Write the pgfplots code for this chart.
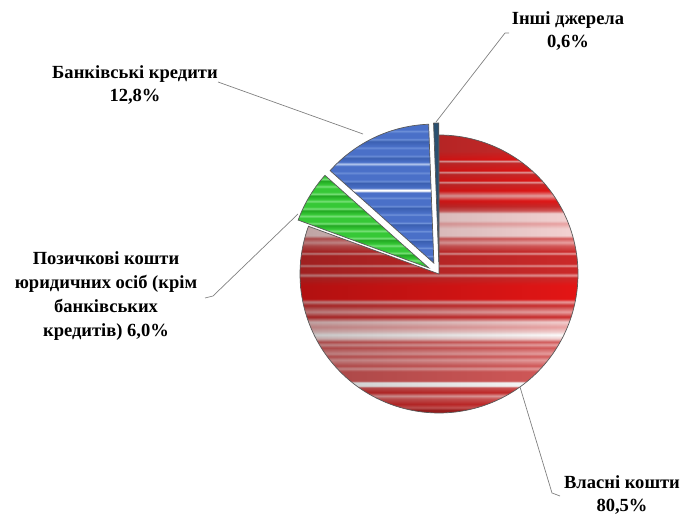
\documentclass[border=0pt]{standalone}
\usepackage{pgfplots}
\usepackage{pgfplotstable}
\pgfplotsset{compat=1.18}
\usetikzlibrary{fadings}
\usepackage{fontspec}
\setmainfont{Liberation Serif}

\definecolor{R1}{HTML}{CC2A2A}
\definecolor{R2}{HTML}{E41616}
\definecolor{RD}{HTML}{A41E1E}
\definecolor{RS}{HTML}{D65A5A}
\definecolor{P1}{HTML}{EBA2A2}
\definecolor{P2}{HTML}{F4D2D2}
\definecolor{B1}{HTML}{4A70C8}
\definecolor{B2}{HTML}{7496DC}
\definecolor{BD}{HTML}{3A5FB0}
\definecolor{G1}{HTML}{36C836}
\definecolor{G2}{HTML}{78E078}
\definecolor{GD}{HTML}{22A822}
\definecolor{OT}{HTML}{2A5070}
\definecolor{leader}{HTML}{808080}

\pgfdeclareverticalshading{redstr}{100bp}{%
color(0bp)=(RD); color(22bp)=(RD); color(23.4bp)=(R1); color(23.9bp)=(RS); color(24.4bp)=(R1);
color(25.5bp)=(RD); color(26bp)=(RS); color(26.6bp)=(R1); color(27.6bp)=(RS); color(28.1bp)=(P1);
color(28.7bp)=(R1); color(29.6bp)=(RS); color(29.9bp)=(white); color(30.5bp)=(white); color(30.8bp)=(RS);
color(32.5bp)=(RS); color(33bp)=(P1); color(33.5bp)=(RS); color(34.6bp)=(P1); color(35.2bp)=(RS);
color(35.7bp)=(P1); color(36.75bp)=(RS); color(37.3bp)=(P1); color(37.8bp)=(RS); color(38.4bp)=(P2);
color(39.1bp)=(white); color(39.6bp)=(P2); color(40.5bp)=(P1); color(41.4bp)=(P2); color(42.3bp)=(R1);
color(43.2bp)=(P1); color(43.9bp)=(RS); color(44.4bp)=(R1); color(45bp)=(P1); color(45.5bp)=(R2);
color(48bp)=(R2); color(49.4bp)=(R1); color(49.8bp)=(P1); color(50.2bp)=(R1); color(51.2bp)=(R1);
color(51.5bp)=(P1); color(51.8bp)=(R1); color(53.4bp)=(R1); color(53.7bp)=(P1); color(54bp)=(R1);
color(55.1bp)=(RS); color(55.7bp)=(P1); color(56.4bp)=(RS); color(56.9bp)=(P2); color(58.2bp)=(P2);
color(59.1bp)=(P1); color(59.6bp)=(P2); color(60.9bp)=(P2); color(61.4bp)=(RS); color(62.2bp)=(R1);
color(63.2bp)=(R2); color(64.1bp)=(P1); color(65bp)=(R2); color(66.2bp)=(R1); color(66.5bp)=(P1);
color(66.8bp)=(R2); color(68bp)=(R1); color(68.3bp)=(P1); color(68.6bp)=(R2); color(70bp)=(R1);
color(70.3bp)=(P1); color(70.6bp)=(R2); color(72.1bp)=(R1); color(100bp)=(R1)}

\pgfdeclareverticalshading{bluestr}{100bp}{%
color(0bp)=(BD); color(10bp)=(BD); color(12bp)=(B1); color(12.5bp)=(B2); color(13bp)=(B1);
color(15bp)=(BD); color(15.5bp)=(B2); color(16bp)=(B1); color(18bp)=(B1); color(18.5bp)=(B2);
color(19bp)=(B1); color(21bp)=(BD); color(21.5bp)=(B2); color(22bp)=(B1); color(24bp)=(B1);
color(24.5bp)=(B2); color(25bp)=(B1); color(27bp)=(BD); color(27.5bp)=(B2); color(28bp)=(B1);
color(30bp)=(B1); color(30.5bp)=(B2); color(31bp)=(B1); color(33bp)=(BD); color(33.5bp)=(B2);
color(34bp)=(B1); color(36bp)=(B1); color(36.5bp)=(B2); color(37bp)=(B1); color(39bp)=(BD);
color(39.5bp)=(B2); color(40bp)=(B1); color(42bp)=(B1); color(42.5bp)=(B2); color(43bp)=(B1);
color(45bp)=(BD); color(45.5bp)=(B2); color(46bp)=(B1); color(48bp)=(B1); color(48.5bp)=(B2);
color(49bp)=(B1); color(50.6bp)=(B1); color(50.9bp)=(white); color(51.6bp)=(white); color(51.9bp)=(B1);
color(54bp)=(BD); color(54.5bp)=(B2); color(55bp)=(B1); color(57bp)=(B1); color(57.5bp)=(B2);
color(58bp)=(B1); color(60bp)=(B1); color(60.4bp)=(B2); color(60.7bp)=(white); color(61bp)=(B2);
color(61.4bp)=(B1); color(63bp)=(BD); color(63.5bp)=(B2); color(64bp)=(B1); color(66bp)=(B1);
color(66.5bp)=(B2); color(67bp)=(B1); color(69bp)=(BD); color(69.5bp)=(B2); color(70bp)=(B1);
color(72bp)=(B1); color(72.5bp)=(B2); color(73bp)=(B1); color(100bp)=(B1)}

\pgfdeclareverticalshading{greenstr}{100bp}{%
color(0bp)=(GD); color(10bp)=(GD); color(12bp)=(G1); color(13bp)=(G2); color(14bp)=(G1);
color(16bp)=(GD); color(17bp)=(G2); color(18bp)=(G1); color(20bp)=(G1); color(21bp)=(G2);
color(22bp)=(G1); color(24bp)=(GD); color(25bp)=(G2); color(26bp)=(G1); color(28bp)=(G1);
color(29bp)=(G2); color(30bp)=(G1); color(32bp)=(GD); color(33bp)=(G2); color(34bp)=(G1);
color(36bp)=(G1); color(37bp)=(G2); color(38bp)=(G1); color(40bp)=(GD); color(41bp)=(G2);
color(42bp)=(G1); color(44bp)=(G1); color(45bp)=(G2); color(46bp)=(G1); color(48bp)=(GD);
color(49bp)=(G2); color(50bp)=(G1); color(52bp)=(G1); color(53bp)=(G2); color(54bp)=(G1);
color(56bp)=(GD); color(57bp)=(G2); color(58bp)=(G1); color(60bp)=(G1); color(61bp)=(G2);
color(62bp)=(G1); color(64bp)=(GD); color(65bp)=(G2); color(66bp)=(G1); color(68bp)=(G1);
color(69bp)=(G2); color(70bp)=(G1); color(72bp)=(GD); color(73bp)=(G2); color(74bp)=(G1);
color(76bp)=(G1); color(77bp)=(G2); color(78bp)=(G1); color(100bp)=(G1)}

% shares (%): Власні кошти, Позичкові кошти, Банківські кредити, Інші джерела
\pgfplotstableread{
share
80.5
6.0
12.8
0.6
}\piedata

\pgfplotstablegetelem{0}{share}\of\piedata \pgfmathsetmacro\vA{\pgfplotsretval}
\pgfplotstablegetelem{1}{share}\of\piedata \pgfmathsetmacro\vB{\pgfplotsretval}
\pgfplotstablegetelem{2}{share}\of\piedata \pgfmathsetmacro\vC{\pgfplotsretval}
\pgfplotstablegetelem{3}{share}\of\piedata \pgfmathsetmacro\vD{\pgfplotsretval}
\pgfmathsetmacro\tot{\vA+\vB+\vC+\vD}
\pgfmathsetmacro\aA{90}
\pgfmathsetmacro\aB{\aA-\vA/\tot*360}
\pgfmathsetmacro\aC{\aB-\vB/\tot*360}
\pgfmathsetmacro\aD{\aC-\vC/\tot*360}
\pgfmathsetmacro\aE{\aD-\vD/\tot*360}

\def\cx{439}
\def\cy{243}
\def\R{139}

% #1 style, #2 smaller angle, #3 larger angle, #4 explode distance
\newcommand\pieslice[4]{%
  \pgfmathsetmacro\pmid{(#2+#3)/2}%
  \pgfmathsetmacro\px{\cx+#4*cos(\pmid)}%
  \pgfmathsetmacro\py{\cy+#4*sin(\pmid)}%
  \edef\temp{\noexpand\addplot[#1, domain=#2:#3, samples=150, variable=\noexpand\t]
    ({\px+\R*cos(\noexpand\t)},{\py+\R*sin(\noexpand\t)}) -- (axis cs:\px,\py) -- cycle;}%
  \temp
}

\begin{document}
\begin{tikzpicture}
\begin{axis}[
  at={(0,0)}, anchor=south west,
  width=683bp, height=517bp, scale only axis,
  xmin=0, xmax=683, ymin=0, ymax=517,
  hide axis, clip=false,
]
\pieslice{shade, shading=redstr, draw=none}{\aB}{\aA}{0}
\pieslice{fill=black, fill opacity=0.22, path fading=east, draw=none}{\aB}{\aA}{0}
\pieslice{draw=black!65, line width=0.7pt, fill=none}{\aB}{\aA}{0}
\pieslice{shade, shading=greenstr, draw=black!65, line width=0.7pt}{\aC}{\aB}{12}
\pieslice{shade, shading=bluestr, draw=black!65, line width=0.7pt}{\aD}{\aC}{12}
\pieslice{fill=OT, draw=black!65, line width=0.7pt}{\aE}{\aD}{12}

\draw[leader, line width=0.7pt] (axis cs:436,395) -- (axis cs:505,484) -- (axis cs:509,484);
\draw[leader, line width=0.7pt] (axis cs:218,435) -- (axis cs:363,383);
\draw[leader, line width=0.7pt] (axis cs:205,219) -- (axis cs:213,221) -- (axis cs:298,303);
\draw[leader, line width=0.7pt] (axis cs:520,130) -- (axis cs:552,24) -- (axis cs:560,21);

\tikzset{lbl/.style={align=center, font=\bfseries\fontsize{18.6}{24}\selectfont, inner sep=0pt}}
\node[lbl] at (axis cs:568,486) {Інші джерела\\0,6\%};
\node[lbl] at (axis cs:135,432) {Банківські кредити\\12,8\%};
\node[lbl] at (axis cs:106,221) {Позичкові кошти\\юридичних осіб (крім\\банківських\\кредитів) 6,0\%};
\node[lbl] at (axis cs:622,22) {Власні кошти\\80,5\%};
\end{axis}
\pgfresetboundingbox
\path[use as bounding box] (0,0) rectangle (683bp,517bp);
\end{tikzpicture}
\end{document}
